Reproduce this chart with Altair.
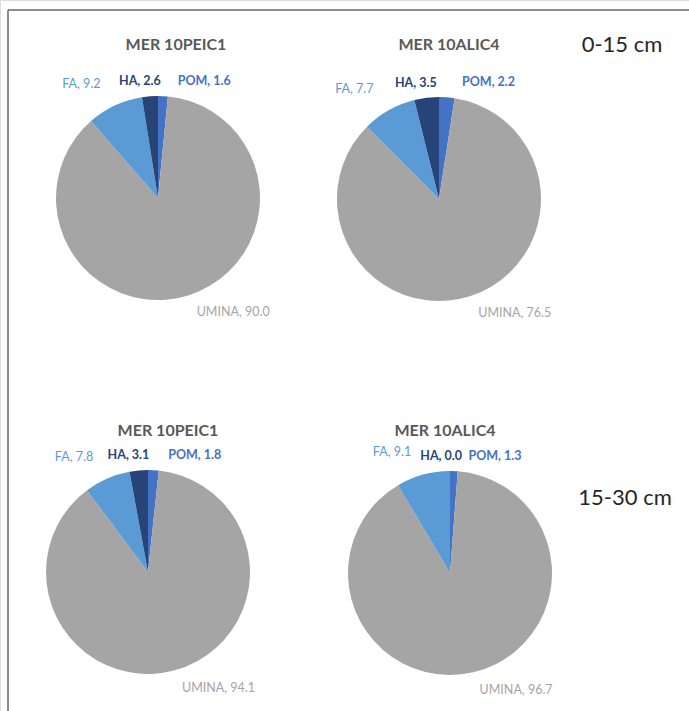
import math
import altair as alt
import pandas as pd

# Soil organic matter fractions for two profiles at two depths
components = ["POM", "UMINA", "FA", "HA"]          # drawing order, clockwise from 12 o'clock
titles = ["MER 10PEIC1", "MER 10ALIC4", "MER 10PEIC1", "MER 10ALIC4"]
depths = ["0-15 cm", "15-30 cm"]

top_peic1 = [1.6, 90.0, 9.2, 2.6]
top_alic4 = [2.2, 76.5, 7.7, 3.5]
sub_peic1 = [1.8, 94.1, 7.8, 3.1]
sub_alic4 = [1.3, 96.7, 9.1, 0.0]
series = [top_peic1, top_alic4, sub_peic1, sub_alic4]

colors = ["#4472C4", "#A5A5A5", "#5B9BD5", "#264478"]

rows = []
for p, vals in enumerate(series):
    for k, (c, v) in enumerate(zip(components, vals)):
        rows.append({"pie": p, "component": c, "value": v, "order": k,
                     "label": f"{c}, {v:.1f}"})
df = pd.DataFrame(rows)

W, H = 689, 711
R = 102
FONT = "Lato"
centers = [(158, 198), (439, 199), (148, 572), (450, 573)]
title_pos = [(176, 45), (449, 45), (168, 431), (445, 431)]
depth_pos = [(622, 45), (625, 498)]

theta_scale = alt.Scale(domain=[0, 1], range=[0, 2 * math.pi])
color_scale = alt.Scale(domain=components, range=colors)

# per-component label styling
label_style = {
    "POM": dict(align="left", dx=14, dy=0, weight="bold", color="#4472C4"),
    "UMINA": dict(align="left", dx=3, dy=3, weight="normal", color="#A5A5A5"),
    "FA": dict(align="right", dx=-8, dy=-8, weight="normal", color="#5B9BD5"),
    "HA": dict(align="right", dx=12, dy=0, weight="bold", color="#264478"),
}


def pie_base(p):
    return (
        alt.Chart(df)
        .transform_filter(alt.datum.pie == p)
        .transform_joinaggregate(total="sum(value)")
        .transform_window(cum="sum(value)", sort=[alt.SortField("order")],
                          frame=[None, 0])
        .transform_calculate(
            t1="datum.cum / datum.total",
            t0="(datum.cum - datum.value) / datum.total",
        )
        .transform_calculate(tm="(datum.t0 + datum.t1) / 2")
    )


layers = []
for p in range(4):
    cx, cy = centers[p]
    base = pie_base(p)
    arcs = base.mark_arc(outerRadius=R).encode(
        x=alt.value(cx),
        y=alt.value(cy),
        theta=alt.Theta("t0:Q", scale=theta_scale),
        theta2="t1:Q",
        color=alt.Color("component:N", scale=color_scale, legend=None),
    )
    layers.append(arcs)
    for comp in components:
        st = label_style[comp]
        txt = (
            base.transform_filter(alt.datum.component == comp)
            .mark_text(radius=R + 15, align=st["align"], baseline="middle",
                       dx=st["dx"], dy=st["dy"], font=FONT, fontSize=12.5,
                       fontWeight=st["weight"], color=st["color"])
            .encode(
                x=alt.value(cx),
                y=alt.value(cy),
                theta=alt.Theta("tm:Q", scale=theta_scale),
                text="label:N",
            )
        )
        layers.append(txt)

one = pd.DataFrame({"k": [0]})
for p in range(4):
    tx, ty = title_pos[p]
    layers.append(
        alt.Chart(one).mark_text(font=FONT, fontSize=16, fontWeight="bold",
                                 color="#595959", baseline="middle")
        .encode(x=alt.value(tx), y=alt.value(ty), text=alt.value(titles[p]))
    )
for d, (tx, ty) in zip(depths, depth_pos):
    layers.append(
        alt.Chart(one).mark_text(font=FONT, fontSize=22, color="#262626",
                                 baseline="middle")
        .encode(x=alt.value(tx), y=alt.value(ty), text=alt.value(d))
    )

# frame lines along the top and left edge
layers.append(
    alt.Chart(one).mark_rule(color="#666666", strokeWidth=1.5)
    .encode(x=alt.value(8), x2=alt.value(W), y=alt.value(10))
)
layers.append(
    alt.Chart(one).mark_rule(color="#666666", strokeWidth=1.5)
    .encode(x=alt.value(8), y=alt.value(10), y2=alt.value(H))
)

chart = (
    alt.layer(*layers)
    .properties(width=W, height=H, padding=0,
                autosize=alt.AutoSizeParams(type="none"))
    .configure_view(stroke=None)
    .configure(background="white")
)

chart.save("out.html", embed_options={"renderer": "svg", "actions": False})
